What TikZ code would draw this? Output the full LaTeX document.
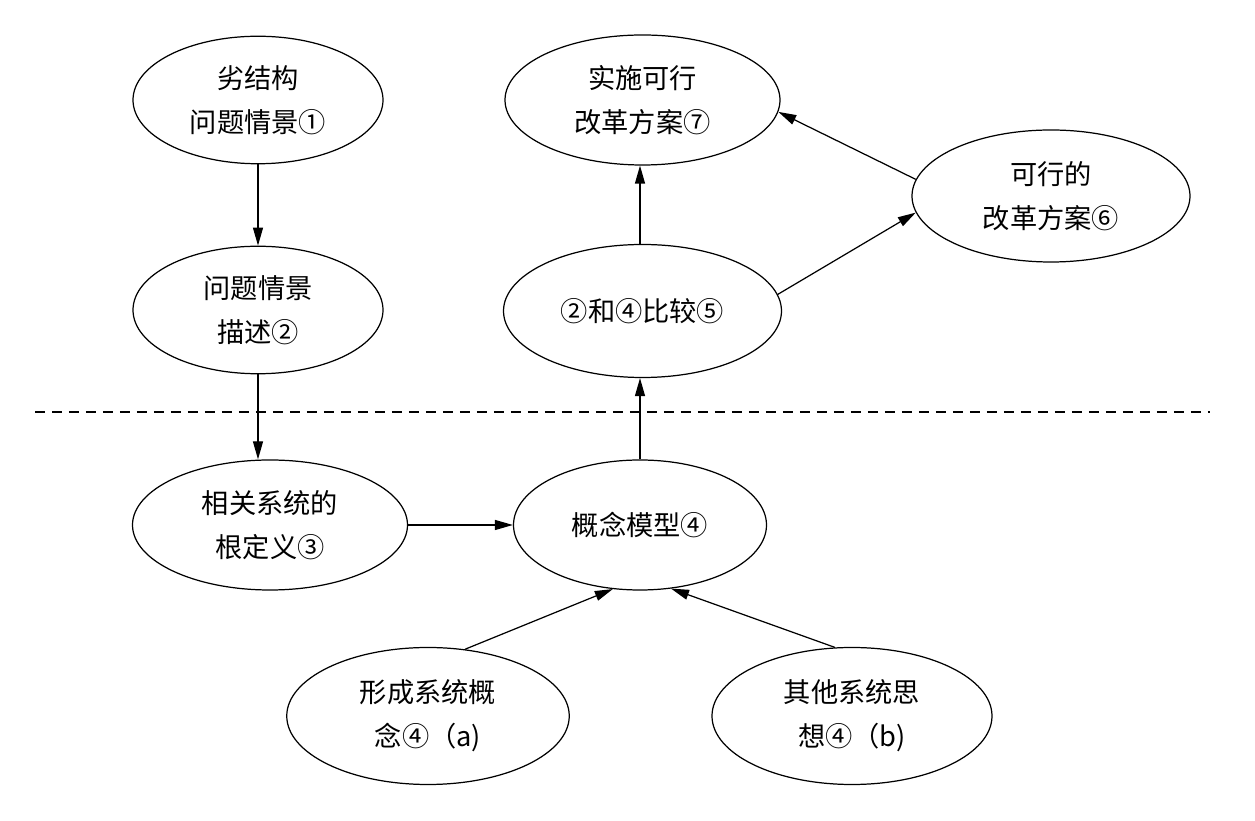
\documentclass[tikz,border=0pt]{standalone}
\usepackage{fontspec}
\newfontfamily\cjk{Noto Sans CJK SC}
\usepackage{tikz}
\usetikzlibrary{shapes.geometric, arrows.meta, positioning}

\begin{document}
\begin{tikzpicture}[
        stepEllipse/.style={
            ellipse, draw=black, line width=0.7pt, inner sep=0pt,
            minimum width=5.5cm, minimum height=2.6cm, align=center,
            font=\cjk\fontsize{15.5pt}{25pt}\selectfont
        },
        smallEllipse/.style={
            stepEllipse, minimum width=5cm, minimum height=2.55cm
        },
        lowEllipse/.style={
            stepEllipse, minimum width=5.65cm, minimum height=2.74cm
        },
        arrow/.style={
            line width=0.7pt, -{Triangle[length=3.6mm,width=2mm]}
        }
    ]
        \useasboundingbox (0,0) rectangle (25.1,16.42);

        % Nodes
        \node (worst) [smallEllipse] at (5.16,14.42) {劣结构\\问题情景①};
        \node (describe) [smallEllipse] at (5.16,10.22) {问题情景\\描述②};
        \node (rootdef) [stepEllipse] at (5.40,5.92) {相关系统的\\根定义③};
        \node (model) [stepEllipse, minimum width=5.06cm] at (12.80,5.92) {概念模型④};
        \node (compare) [stepEllipse, minimum width=5.56cm, minimum height=2.66cm] at (12.85,10.20) {②和④比较⑤};
        \node (apply) [stepEllipse] at (12.85,14.42) {实施可行\\改革方案⑦};
        \node (feasible) [stepEllipse, minimum width=5.56cm, minimum height=2.64cm] at (21.02,12.50) {可行的\\改革方案⑥};
        \node (concept) [lowEllipse] at (8.56,2.10) {形成系统概\\念④（a)};
        \node (other) [lowEllipse, minimum width=5.6cm] at (17.04,2.10) {其他系统思\\想④（b)};

        % Separator
        \draw [line width=0.7pt, dash pattern=on 0.2cm off 0.14cm] (0.7,8.18) -- (24.2,8.18);

        % Arrows
        \draw [arrow] (worst) -- (describe);
        \draw [arrow] (describe.south) -- (describe.south |- rootdef.north);
        \draw [arrow] (rootdef) -- (model);
        \draw [arrow] (model.north) -- (model.north |- compare.south);
        \draw [arrow] (compare.north -| model.north) -- (model.north |- apply.south);
        \draw [arrow] (compare.7) -- (feasible.187);
        \draw [arrow] (feasible.173) -- (apply.-5);
        \draw [arrow] (concept.61) -- (model.-113);
        \draw [arrow] (other.104) -- (model.-64);
    \end{tikzpicture}
\end{document}
